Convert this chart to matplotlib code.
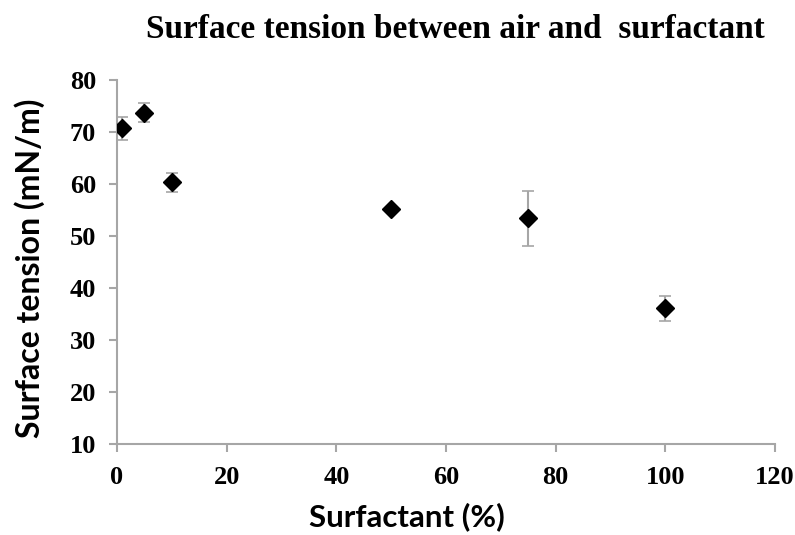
import matplotlib.pyplot as plt

surfactant = [1, 5, 10, 50, 75, 100]
tension = [70.7, 73.7, 60.3, 55.1, 53.4, 36.1]
tension_err = [2.2, 1.8, 1.8, 0.5, 5.3, 2.4]

x_ticks = [0, 20, 40, 60, 80, 100, 120]
y_ticks = [10, 20, 30, 40, 50, 60, 70, 80]

grey = "#a6a6a6"

fig = plt.figure(figsize=(7.95, 5.35), dpi=100)
ax = fig.add_axes([117 / 795, 1 - 444 / 535, (775 - 117) / 795, (444 - 80) / 535])

ax.errorbar(surfactant, tension, yerr=tension_err, fmt="none",
            ecolor=grey, elinewidth=1.5, capsize=4, capthick=1.2, zorder=2)
ax.plot(surfactant, tension, linestyle="none", marker="D", markersize=9,
        color="black", zorder=3)

ax.set_xlim(0, 120)
ax.set_ylim(10, 80)
ax.set_xticks(x_ticks)
ax.set_yticks(y_ticks)

for side in ["top", "right"]:
    ax.spines[side].set_visible(False)
for side in ["left", "bottom"]:
    ax.spines[side].set_color(grey)
    ax.spines[side].set_linewidth(1.5)

ax.tick_params(axis="both", direction="out", length=6, width=1.5, color=grey)
ax.tick_params(axis="x", pad=10)
ax.tick_params(axis="y", pad=9)
for lab in ax.get_xticklabels() + ax.get_yticklabels():
    lab.set_fontfamily("Liberation Serif")
    lab.set_fontweight("bold")
    lab.set_fontsize(19)

fig.text(455 / 795, 1 - 29 / 535, "Surface tension between air and  surfactant",
         ha="center", va="center", fontsize=24, fontweight="bold",
         family="Liberation Serif")
fig.text(407 / 795, 1 - 517 / 535, "Surfactant (%)", ha="center", va="center",
         fontsize=22.5, fontweight="bold", family="Lato")
fig.text(30 / 795, 1 - 268 / 535, "Surface tension (mN/m)", ha="center", va="center",
         rotation=90, fontsize=23, fontweight="bold", family="Lato")

fig.savefig("out.png", dpi=100)
